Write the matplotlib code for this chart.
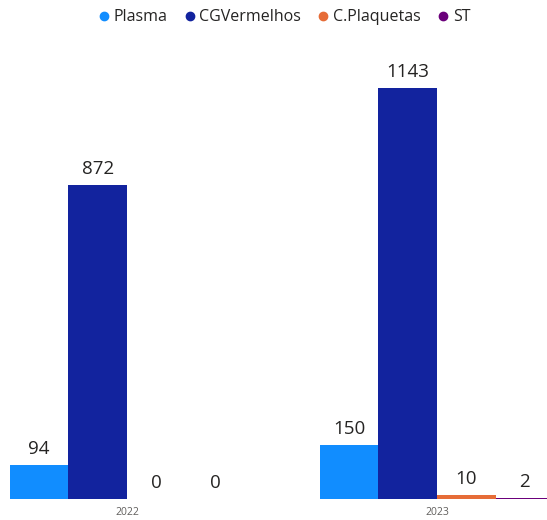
import numpy as np
import matplotlib.pyplot as plt
from matplotlib.lines import Line2D

plt.rcParams['font.family'] = ['Open Sans', 'DejaVu Sans']

years = ['2022', '2023']
series = ['Plasma', 'CGVermelhos', 'C.Plaquetas', 'ST']
plasma = [94, 150]
cgvermelhos = [872, 1143]
cplaquetas = [0, 10]
st = [0, 2]
colors = ['#118DFF', '#12239E', '#E66C37', '#6B007B']

values = [plasma, cgvermelhos, cplaquetas, st]

fig = plt.figure(figsize=(5.47, 5.20), dpi=100)
ax = fig.add_axes([0, 21 / 520, 1, 459 / 520])

x = np.arange(len(years))
w = 0.189
for i, (name, vals) in enumerate(zip(series, values)):
    pos = x + (i - 1.5) * w
    bars = ax.bar(pos, vals, width=w, color=colors[i], label=name)
    for b, v in zip(bars, vals):
        ax.annotate(str(v), (b.get_x() + b.get_width() / 2, v),
                    xytext=(0, 5), textcoords='offset points',
                    ha='center', va='bottom', fontsize=13.5, color='#252423')

ax.set_xlim(-0.41, 1.355)
ax.set_ylim(0, 1276)
ax.set_xticks(x)
ax.set_xticklabels(years, fontsize=7.5, color='#605E5C')
ax.tick_params(axis='x', length=0, pad=6)
ax.set_yticks([])
for s in ax.spines.values():
    s.set_visible(False)

handles = [Line2D([], [], marker='o', linestyle='', markersize=6, color=c) for c in colors]
fig.legend(handles, series, loc='upper center', bbox_to_anchor=(0.51, 1.01), ncol=4,
           frameon=False, fontsize=11.5, handletextpad=-0.4, columnspacing=0.4,
           labelcolor='#252423')

fig.savefig('out.png', dpi=100)
